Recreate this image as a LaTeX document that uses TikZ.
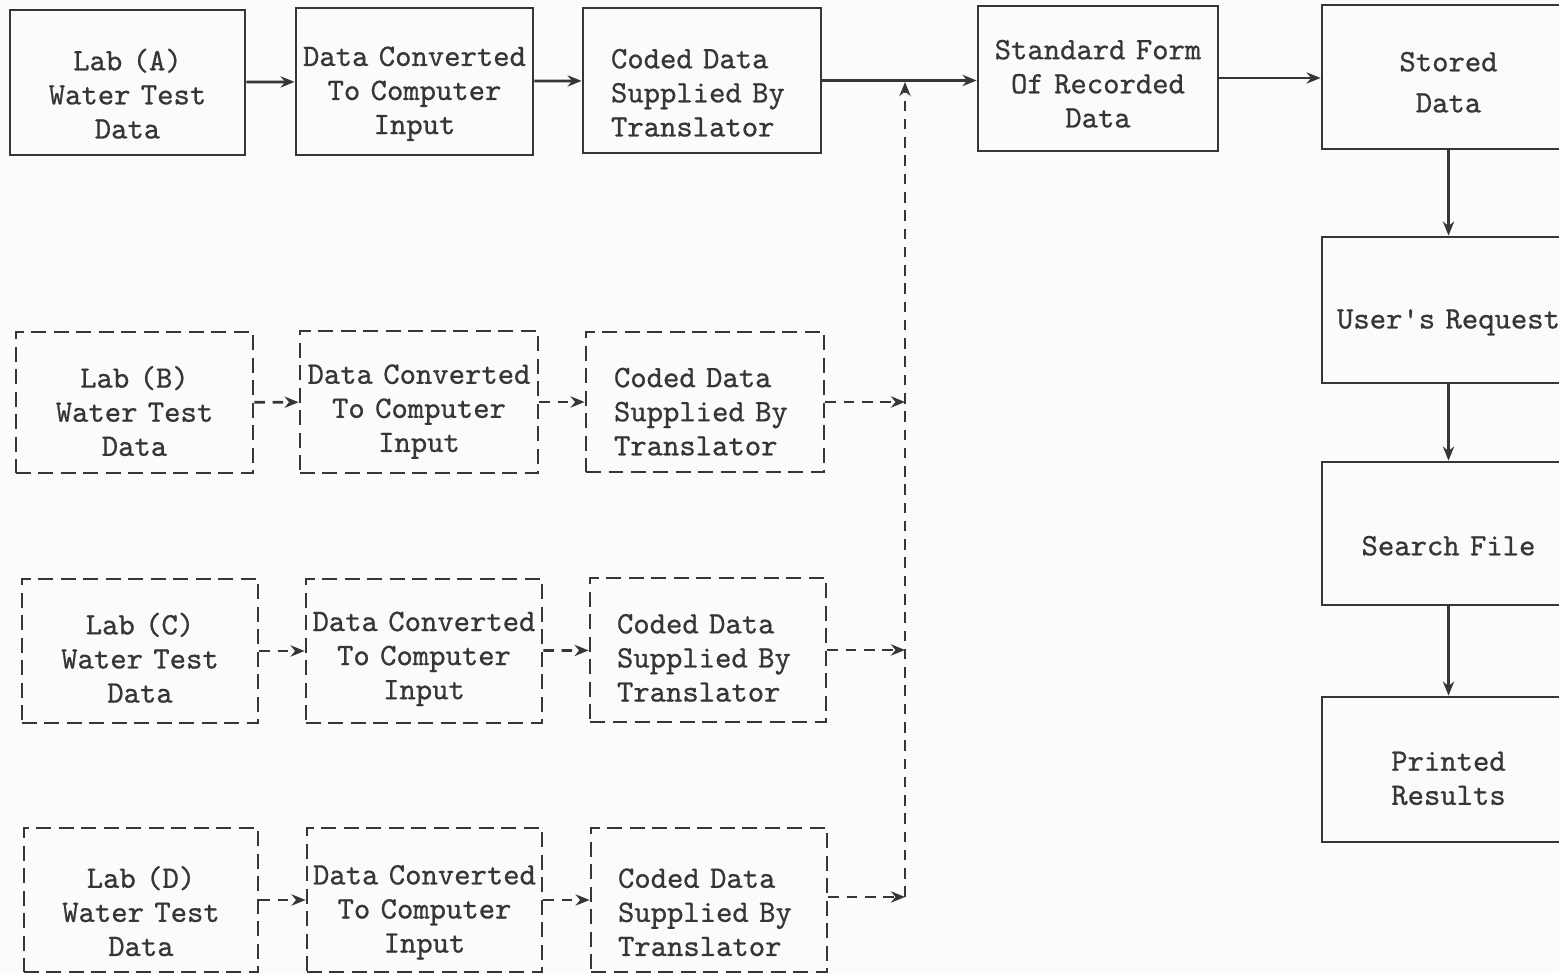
\documentclass[tikz,border=0pt]{standalone}
\usepackage{fontspec}
\newfontfamily\typer{lmmono10-regular.otf}[FakeBold=0.7]
\usepackage[HTML]{xcolor}
\usepackage{tikz}
\usetikzlibrary{positioning, arrows.meta}
\definecolor{ink}{HTML}{363636}
\definecolor{paper}{HTML}{FBFBFA}
\newcommand\boxgap{12.5pt}

\begin{document}
\begin{tikzpicture}[
  box/.style={draw=ink, line width=0.8pt, text=ink, align=center, inner sep=0pt,
    text width=2.33cm, font=\fontsize{8.86}{9.7}\selectfont\typer,
    execute at begin node={\rule{0pt}{\boxgap}}},
  dbox/.style={box, dash pattern=on 4.2pt off 2.2pt},
  coded/.style={align=left, text width=1.82cm},
  topgap/.code={\def\boxgap{#1}},
  flow/.style={draw=ink, line width=0.8pt, -{Stealth[length=4pt,width=3.2pt]}},
  dflow/.style={flow, dash pattern=on 3pt off 2.2pt}
]
% page
\fill[paper] (0,0) rectangle (15.59,-9.74);
\useasboundingbox (0,0) rectangle (15.59,-9.74);
\clip (0,0) rectangle (15.59,-9.74);
% lab A, solid row
\node[box, minimum width=2.35cm, minimum height=1.45cm] (labA) at (1.275,-0.825) {Lab (A)\\Water Test\\Data};
\node[box, minimum width=2.37cm, minimum height=1.47cm] (convA) at (4.145,-0.815) {Data Converted\\To Computer\\Input};
\node[box, coded, minimum width=2.38cm, minimum height=1.45cm] (codeA) at (7.02,-0.805) {Coded Data\\Supplied By\\Translator};
\node[box, topgap=8.5pt, minimum width=2.40cm, minimum height=1.45cm] (std) at (10.98,-0.785) {Standard Form\\Of Recorded\\Data};
% right column
\node[box, topgap=8.5pt, minimum width=2.53cm, minimum height=1.44cm] (stored) at (14.485,-0.77) {Stored\\[0.07cm]Data};
\node[box, minimum width=2.53cm, minimum height=1.46cm] (request) at (14.485,-3.10) {User's Request};
\node[box, minimum width=2.53cm, minimum height=1.43cm] (search) at (14.485,-5.335) {Search File};
\node[box, topgap=10.5pt, minimum width=2.53cm, minimum height=1.45cm] (printed) at (14.485,-7.695) {Printed\\Results};
% labs B, C, D, dashed rows
\node[dbox, topgap=11pt, minimum width=2.37cm, minimum height=1.41cm] (labB) at (1.345,-4.025) {Lab (B)\\Water Test\\Data};
\node[dbox, topgap=11pt, minimum width=2.38cm, minimum height=1.42cm] (convB) at (4.19,-4.02) {Data Converted\\To Computer\\Input};
\node[dbox, coded, topgap=11pt, minimum width=2.38cm, minimum height=1.40cm] (codeB) at (7.05,-4.02) {Coded Data\\Supplied By\\Translator};
\node[dbox, topgap=10pt, minimum width=2.36cm, minimum height=1.44cm] (labC) at (1.40,-6.51) {Lab (C)\\Water Test\\Data};
\node[dbox, topgap=10pt, minimum width=2.36cm, minimum height=1.44cm] (convC) at (4.24,-6.51) {Data Converted\\To Computer\\Input};
\node[dbox, coded, topgap=10pt, minimum width=2.36cm, minimum height=1.44cm] (codeC) at (7.08,-6.50) {Coded Data\\Supplied By\\Translator};
\node[dbox, minimum width=2.34cm, minimum height=1.44cm] (labD) at (1.41,-9.00) {Lab (D)\\Water Test\\Data};
\node[dbox, minimum width=2.35cm, minimum height=1.44cm] (convD) at (4.245,-9.00) {Data Converted\\To Computer\\Input};
\node[dbox, coded, minimum width=2.36cm, minimum height=1.44cm] (codeD) at (7.09,-9.00) {Coded Data\\Supplied By\\Translator};
% trunk where the dashed rows join
\coordinate (trunk) at (9.05,-0.82);
\coordinate (trunkD) at (9.05,-8.97);
% solid arrows
\draw[flow] (labA) -- (convA);
\draw[flow] (convA) -- (codeA);
\draw[flow] (codeA.east) -- (codeA.east -| std.west);
\draw[flow] (std.east |- 0,-0.78) -- (stored.west |- 0,-0.78);
\draw[flow] (stored) -- (request);
\draw[flow] (request) -- (search);
\draw[flow] (search) -- (printed);
% dashed arrows
\foreach \r in {B,C,D}{
  \draw[dflow] (lab\r) -- (conv\r);
  \draw[dflow] (conv\r) -- (code\r);
}
\draw[dflow] (codeB.east) -- (codeB.east -| trunk);
\draw[dflow] (codeC.east) -- (codeC.east -| trunk);
\draw[dflow] (codeD.east |- trunkD) -- (trunkD);
\draw[dflow] (trunkD) -- (trunk);
\end{tikzpicture}
\end{document}
